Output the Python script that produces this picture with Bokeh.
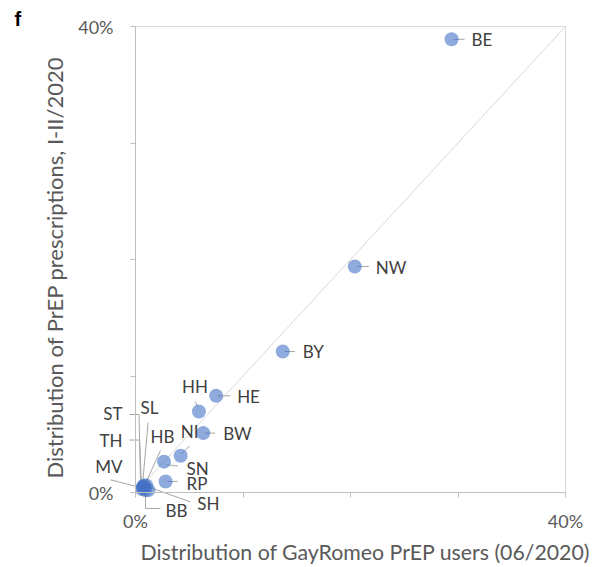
from bokeh.plotting import figure
from bokeh.models import (Range1d, FixedTicker, ColumnDataSource, LabelSet, Label,
                          LinearAxis)
from bokeh.embed import file_html
from bokeh.resources import INLINE
from bokeh.core.properties import value

# ---- data (percent) ----
states = ["BE", "NW", "BY", "HE", "HH", "BW", "NI", "SN", "RP",
          "MV", "ST", "SL", "TH", "HB", "BB", "SH"]
gayromeo_users = [29.4, 20.4, 13.7, 7.5, 5.9, 6.3, 4.2, 2.65, 2.8,
                  0.6, 0.7, 0.8, 0.7, 1.0, 0.9, 1.2]
prep_prescriptions = [38.9, 19.4, 12.1, 8.3, 6.95, 5.1, 3.15, 2.65, 0.95,
                      0.3, 0.5, 0.6, 0.4, 0.6, 0.2, 0.2]
ticks = [0, 10, 20, 30, 40]
tick_labels = ["0%", "", "", "", "40%"]
diagonal = [0, 40]
x_title = "Distribution of GayRomeo PrEP users (06/2020)"
y_title = "Distribution of PrEP prescriptions, I-II/2020"

# ---- layout (pixels) ----
W, H = 606, 566                 # canvas = frame
ORIGIN = (135, 492)             # pixel position of (0%, 0%)
SX, SY = 10.75, 11.65           # pixels per percent
X_TITLE_SHIFT = 15              # px, title centre right of axis centre
Y_TITLE_SHIFT = -8              # px (up positive), title centre relative to axis centre
x_range = Range1d(-ORIGIN[0] / SX, (W - ORIGIN[0]) / SX)
y_range = Range1d((ORIGIN[1] - H) / SY, ORIGIN[1] / SY)

# label placement (pixels from point, y down), alignment, leader polyline (pixels from point, y down)
label_layout = {
    "BE": ((20, 0), "left", [(2, 0), (13, 0)]),
    "NW": ((21, 1), "left", [(2, 0), (14, 0)]),
    "BY": ((20, 0), "left", [(2, 0), (12, 0)]),
    "HE": ((21, 1), "left", [(2, 0), (14, 0)]),
    "HH": ((-4, -25), "center", [(-3.5, -10), (-1.7, -5)]),
    "BW": ((20, 0), "left", [(2, 0), (12, 0)]),
    "NI": ((9, -24), "center", [(9, -10), (1, -2)]),
    "SN": ((22.5, 6.4), "left", [(2.5, 3), (14, 4.5)]),
    "RP": ((21, 2), "left", [(2, 0), (12, 0)]),
    "MV": ((-19.5, -22.5), "right", [(-31.5, -9.2), (-1.5, -1.5)]),
    "ST": ((-20.5, -72.7), "right", [(-13.5, -72.2), (-4, -72.2), (-2.5, -3)]),
    "SL": ((-3.6, -77.7), "left", [(4, -63), (-1.6, -1)]),
    "TH": ((-20.5, -47.8), "right", [(-13.5, -47.8), (-3.5, -47.8), (-1.5, -2.3)]),
    "HB": ((4.25, -49), "left", [(14.25, -35), (-1.75, 0)]),
    "BB": ((20.3, 20.3), "left", [(0.3, 2.3), (0.3, 18.3), (15.3, 18.3)]),
    "SH": ((48.8, 13.6), "left", [(-1.2, -3.7), (42.1, 11.8)]),
}

p = figure(frame_width=W, frame_height=H,
           min_border_left=0, min_border_top=0, min_border_right=0, min_border_bottom=0,
           x_range=x_range, y_range=y_range,
           output_backend="svg", toolbar_location=None, tools="")
p.background_fill_color = "white"
p.border_fill_color = "white"
p.outline_line_color = None
p.xgrid.visible = False
p.ygrid.visible = False

for ax in (p.xaxis, p.yaxis):
    ax.fixed_location = 0
    ax.bounds = (ticks[0], ticks[-1])
    ax.ticker = FixedTicker(ticks=ticks)
    ax.major_label_overrides = {t: l for t, l in zip(ticks, tick_labels)}
    ax.axis_line_color = "#bfbfbf"
    ax.major_tick_line_color = "#bfbfbf"
    ax.minor_tick_line_color = None
    ax.major_tick_in = 0
    ax.major_tick_out = 5
    ax.major_label_text_font = "Lato"
    ax.major_label_text_font_size = "18px"
    ax.major_label_text_color = "#595959"
p.xaxis.major_label_standoff = 12
p.yaxis.major_label_standoff = 17

# axis titles (title-only axes, centred like the reference)
def title_axis(text, size, standoff, bounds):
    a = LinearAxis(fixed_location=0, bounds=bounds, ticker=FixedTicker(ticks=[]),
                   axis_line_color=None, major_tick_line_color=None,
                   minor_tick_line_color=None, major_tick_out=0, major_tick_in=0,
                   axis_label=text, axis_label_standoff=standoff,
                   axis_label_text_font="Lato", axis_label_text_font_size=size,
                   axis_label_text_font_style="normal", axis_label_text_color="#595959")
    return a

xs = X_TITLE_SHIFT / SX
ys = Y_TITLE_SHIFT / SY
p.add_layout(title_axis(x_title, "21.3px", 46, (ticks[0] + xs, ticks[-1] + xs)), "below")
p.add_layout(title_axis(y_title, "22px", 68, (ticks[0] + ys, ticks[-1] + ys)), "left")

# plot-area border (top and right) at the last tick
p.line([ticks[0], ticks[-1], ticks[-1]], [ticks[-1], ticks[-1], ticks[0]],
       line_color="#d9d9d9", line_width=1)

# diagonal reference line
p.line(diagonal, diagonal, line_color="#d9d9d9", line_width=1)

# leader lines
x0, y0, x1, y1 = [], [], [], []
for s, gx, py in zip(states, gayromeo_users, prep_prescriptions):
    pts = label_layout[s][2]
    for (ax_, ay_), (bx_, by_) in zip(pts[:-1], pts[1:]):
        x0.append(gx + ax_ / SX); y0.append(py - ay_ / SY)
        x1.append(gx + bx_ / SX); y1.append(py - by_ / SY)
p.segment(x0="x0", y0="y0", x1="x1", y1="y1",
          source=ColumnDataSource(dict(x0=x0, y0=y0, x1=x1, y1=y1)),
          line_color="#a6a6a6", line_width=1)

# points
src = ColumnDataSource(dict(x=gayromeo_users, y=prep_prescriptions, state=states))
p.scatter("x", "y", source=src, size=14, fill_color="#4472c4", fill_alpha=0.6,
          line_color=None)

# point labels
for align in ("left", "center", "right"):
    idx = [i for i, s in enumerate(states) if label_layout[s][1] == align]
    lsrc = ColumnDataSource(dict(
        x=[gayromeo_users[i] for i in idx],
        y=[prep_prescriptions[i] for i in idx],
        text=[states[i] for i in idx],
        xo=[label_layout[states[i]][0][0] for i in idx],
        yo=[-label_layout[states[i]][0][1] for i in idx],
    ))
    p.add_layout(LabelSet(x="x", y="y", text="text", x_offset="xo", y_offset="yo",
                          source=lsrc, text_align=align, text_baseline="middle",
                          text_font=value("Lato"), text_font_size=value("17px"),
                          text_color="#404040"))

# panel letter
p.add_layout(Label(x=(14 - ORIGIN[0]) / SX, y=(ORIGIN[1] - 18) / SY, text="f",
                   text_font="Liberation Sans", text_font_style="bold",
                   text_font_size="20px", text_color="black",
                   text_align="left", text_baseline="middle"))

open("out.html", "w").write(file_html(p, INLINE))
